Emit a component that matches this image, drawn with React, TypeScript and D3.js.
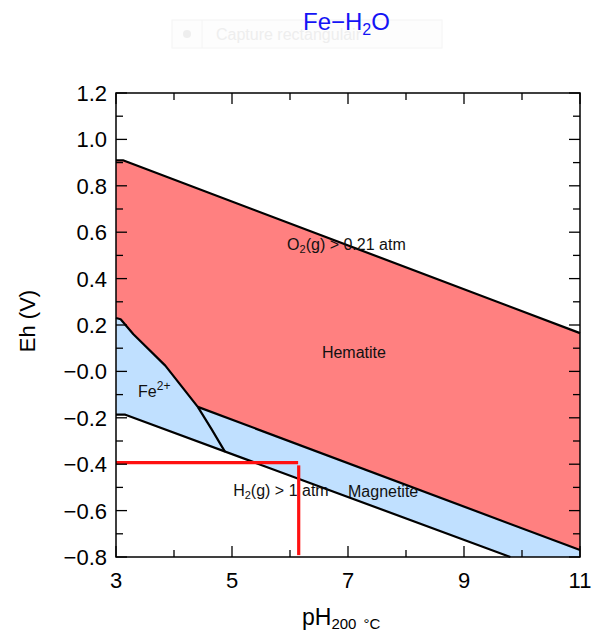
import React from "react";
import * as d3 from "d3";

// ---- data ----
const pHTicks = [3, 4, 5, 6, 7, 8, 9, 10, 11];
const pHLabelTicks = [3, 5, 7, 9, 11];
const ehMajor = [-0.8, -0.6, -0.4, -0.2, 0, 0.2, 0.4, 0.6, 0.8, 1.0, 1.2];
const ehLabels = ["−0.8", "−0.6", "−0.4", "−0.2", "−0.0", "0.2", "0.4", "0.6", "0.8", "1.0", "1.2"];
const ehMinor = [-0.7, -0.5, -0.3, -0.1, 0.1, 0.3, 0.5, 0.7, 0.9, 1.1];

// O2(g) = 0.21 atm boundary
const o2pH = [3, 3.12, 11];
const o2Eh = [0.91, 0.91, 0.165];
// H2(g) = 1 atm boundary
const h2pH = [3, 3.15, 9.8];
const h2Eh = [-0.186, -0.186, -0.8];
// Hematite / Fe2+ boundary
const hemFePH = [3, 3.08, 3.3, 3.85, 4.41];
const hemFeEh = [0.23, 0.225, 0.16, 0.025, -0.153];
// Hematite / Magnetite boundary
const hemMagPH = [4.41, 11];
const hemMagEh = [-0.153, -0.77];
// Fe2+ / Magnetite boundary
const feMagPH = [4.41, 4.65, 4.88];
const feMagEh = [-0.153, -0.25, -0.347];
// red reference lines
const refHpH = [3, 6.14];
const refHEh = [-0.393, -0.393];
const refVpH = [6.15, 6.15];
const refVEh = [-0.405, -0.792];

// field labels
const fieldLabels = [
  { main: "O", sub: "2", rest: "(g) > 0.21 atm", pH: 5.95, eh: 0.523 },
  { main: "Hematite", sub: "", rest: "", pH: 6.55, eh: 0.058 },
  { main: "H", sub: "2", rest: "(g) > 1 atm", pH: 5.02, eh: -0.535 },
  { main: "Magnetite", sub: "", rest: "", pH: 7.0, eh: -0.54 },
];

const zip = (a: number[], b: number[]) => a.map((v, i) => [v, b[i]] as [number, number]);

export default function App() {
  const x = d3.scaleLinear().domain([3, 11]).range([116, 580]);
  const y = d3.scaleLinear().domain([-0.8, 1.2]).range([557, 93]);
  const line = d3
    .line<[number, number]>()
    .x((d) => x(d[0]))
    .y((d) => y(d[1]));

  const o2 = zip(o2pH, o2Eh);
  const h2 = zip(h2pH, h2Eh);
  const hemFe = zip(hemFePH, hemFeEh);
  const hemMag = zip(hemMagPH, hemMagEh);
  const feMag = zip(feMagPH, feMagEh);

  const hematitePoly: [number, number][] = [
    ...o2,
    [11, hemMagEh[hemMagEh.length - 1]],
    ...hemMag.slice().reverse(),
    ...hemFe.slice().reverse(),
  ];
  const bluePoly: [number, number][] = [
    ...hemFe,
    ...hemMag,
    [11, -0.8],
    ...h2.slice().reverse(),
  ];

  const font = "'Liberation Sans', Arial, Helvetica, sans-serif";
  const x0 = x(3), x1 = x(11), y0 = y(1.2), y1 = y(-0.8);

  return (
    <svg
      width={592}
      height={634}
      style={{ position: "absolute", left: 0, top: 0, background: "#fff" }}
      fontFamily={font}
    >
      {/* faint screenshot overlay */}
      <g>
        <rect x={172} y={20} width={270} height={28} fill="#fdfdfd" stroke="#f4f4f4" />
        <line x1={202} x2={202} y1={20} y2={48} stroke="#f4f4f4" />
        <circle cx={187} cy={34} r={4} fill="#eeeeee" />
        <text x={216} y={40} fontSize={16} fill="#eeeeee">Capture rectangulair</text>
      </g>

      {/* title */}
      <text x={303} y={30} fontSize={24} fill="#1414f5">
        Fe−H
        <tspan fontSize={16} dy={5}>2</tspan>
        <tspan dy={-5}>O</tspan>
      </text>

      {/* fields */}
      <path d={line(hematitePoly)!} fill="#ff8080" stroke="none" />
      <path d={line(bluePoly)!} fill="#c0e0ff" stroke="none" />

      {/* boundaries */}
      <g fill="none" stroke="#000" strokeWidth={2.2} strokeLinejoin="round">
        <path d={line(o2)!} />
        <path d={line(h2)!} />
        <path d={line(hemFe)!} />
        <path d={line(hemMag)!} />
        <path d={line(feMag)!} />
      </g>

      {/* field labels */}
      {fieldLabels.map((l, i) => (
        <text key={i} x={x(l.pH)} y={y(l.eh)} fontSize={16} fill="#111">
          {l.main}
          {l.sub && (
            <tspan fontSize={11} dy={3}>
              {l.sub}
            </tspan>
          )}
          {l.rest && <tspan dy={l.sub ? -3 : 0}>{l.rest}</tspan>}
        </text>
      ))}
      <text x={x(3.38)} y={y(-0.11)} fontSize={16} fill="#111">
        Fe
        <tspan fontSize={12} dy={-7}>2+</tspan>
      </text>

      {/* red reference lines */}
      <path d={line(zip(refHpH, refHEh))!} stroke="#ff1010" strokeWidth={3.2} fill="none" />
      <path d={line(zip(refVpH, refVEh))!} stroke="#ff1010" strokeWidth={3.2} fill="none" />

      {/* frame */}
      <rect x={x0} y={y0} width={x1 - x0} height={y1 - y0} fill="none" stroke="#000" strokeWidth={1.5} />

      {/* x ticks (top & bottom) */}
      {pHTicks.map((t) => {
        const len = pHLabelTicks.includes(t) ? 11 : 7;
        return (
          <g key={"x" + t} stroke="#000" strokeWidth={1.3}>
            <line x1={x(t)} x2={x(t)} y1={y1} y2={y1 - len} />
            <line x1={x(t)} x2={x(t)} y1={y0} y2={y0 + len} />
          </g>
        );
      })}
      {pHLabelTicks.map((t) => (
        <text key={"xl" + t} x={x(t)} y={588} fontSize={22} textAnchor="middle" fill="#000">
          {t}
        </text>
      ))}

      {/* y ticks (left & right) */}
      {ehMajor.map((t) => (
        <g key={"ym" + t} stroke="#000" strokeWidth={1.3}>
          <line x1={x0} x2={x0 + 11} y1={y(t)} y2={y(t)} />
          <line x1={x1} x2={x1 - 11} y1={y(t)} y2={y(t)} />
        </g>
      ))}
      {ehMinor.map((t) => (
        <g key={"yn" + t} stroke="#000" strokeWidth={1.3}>
          <line x1={x0} x2={x0 + 7} y1={y(t)} y2={y(t)} />
          <line x1={x1} x2={x1 - 7} y1={y(t)} y2={y(t)} />
        </g>
      ))}
      {ehMajor.map((t, i) => (
        <text
          key={"yl" + t}
          x={107}
          y={y(t) + 8}
          fontSize={22}
          textAnchor="end"
          fill="#000"
        >
          {ehLabels[i]}
        </text>
      ))}

      {/* axis titles */}
      <text transform="translate(35,321) rotate(-90)" fontSize={22} textAnchor="middle" fill="#000">
        Eh (V)
      </text>
      <text x={302} y={625} fontSize={23} fill="#000">
        pH
        <tspan fontSize={15} dy={4}>200</tspan>
        <tspan fontSize={15} dx={7}>°C</tspan>
      </text>
    </svg>
  );
}
